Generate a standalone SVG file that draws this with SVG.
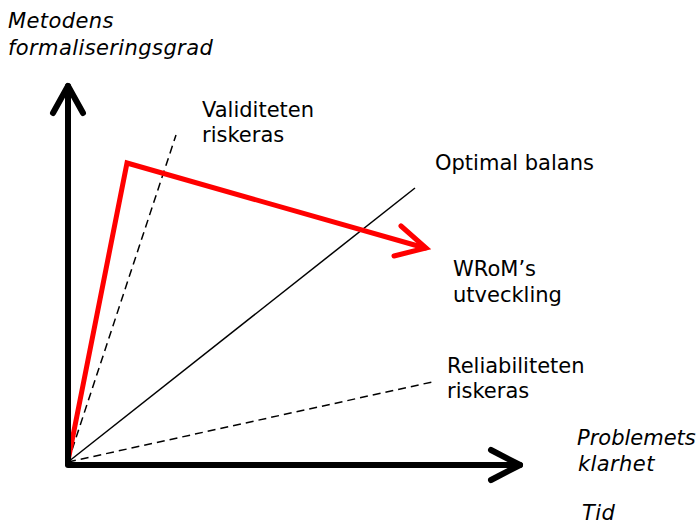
<svg xmlns="http://www.w3.org/2000/svg" width="699" height="526" viewBox="0 0 699 526">
<style>
text{font-family:"DejaVu Sans","Verdana",sans-serif;font-size:21px;fill:#000}
.it{font-style:italic;letter-spacing:0.4px}
.axis{stroke:#000;stroke-width:6;fill:none;stroke-linecap:round;stroke-linejoin:round}
.thin{stroke:#000;stroke-width:1.5;fill:none}
.dash{stroke:#000;stroke-width:1.5;fill:none;stroke-dasharray:8,5}
.red{stroke:#ff0000;stroke-width:5;fill:none;stroke-linecap:round;stroke-linejoin:miter}
</style>
<rect width="699" height="526" fill="#fff"/>
<g id="connectors">
<line class="dash" x1="68" y1="462" x2="176" y2="135"/>
<line class="thin" x1="68" y1="462" x2="415" y2="188"/>
<line class="dash" x1="68" y1="462" x2="432" y2="382"/>
<polyline class="red" points="68,461 127,163 425,248"/>
<polyline class="red" points="401,226 426,248 394,256"/>
<polyline class="axis" points="68,464 68,86"/>
<polyline class="axis" points="53,113 68,86 83,113"/>
<polyline class="axis" points="68,465 520,465"/>
<polyline class="axis" points="491,450 520,465 491,480"/>
</g>
<g id="y-label"><text class="it" x="8" y="28">Metodens</text><text class="it" x="8" y="55">formaliseringsgrad</text></g>
<g id="validitet"><text x="202" y="117">Validiteten</text><text x="202" y="142">riskeras</text></g>
<g id="optimal"><text x="435" y="170">Optimal balans</text></g>
<g id="wrom"><text x="453" y="276">WRoM’s</text><text x="453" y="302">utveckling</text></g>
<g id="reliabilitet"><text x="447" y="373">Reliabiliteten</text><text x="447" y="398">riskeras</text></g>
<g id="x-label"><text class="it" x="577" y="445" style="letter-spacing:0">Problemets</text><text class="it" x="578" y="471">klarhet</text><text class="it" x="582" y="520">Tid</text></g>
</svg>
